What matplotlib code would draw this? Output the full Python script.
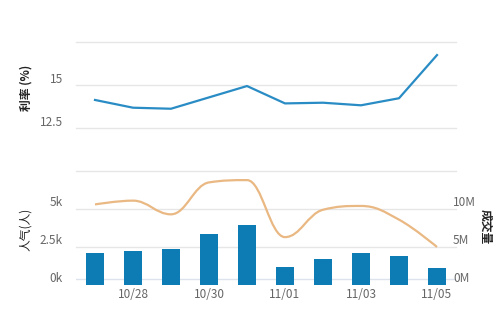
import matplotlib.pyplot as plt
from matplotlib.path import Path
from matplotlib.patches import PathPatch

plt.rcParams['font.family'] = ['Noto Sans CJK SC', 'DejaVu Sans']

dates = ['10/27', '10/28', '10/29', '10/30', '10/31', '11/01', '11/02', '11/03', '11/04', '11/05']
rate = [14.13, 13.68, 13.62, 14.28, 14.94, 13.93, 13.97, 13.82, 14.23, 16.74]
popularity = [2080, 2260, 2370, 3330, 3950, 1160, 1730, 2080, 1910, 1100]
volume = [10.6e6, 11.1e6, 9.3e6, 13.5e6, 13.8e6, 6.3e6, 9.9e6, 10.4e6, 8.6e6, 5.0e6]
tick_dates = ['10/28', '10/30', '11/01', '11/03', '11/05']

grid_c = '#e6e6e6'
text_c = '#666666'


def spline_path(xs, ys, smoothing=1.5):
    # highcharts style spline control points
    n = len(xs)
    lc = [None] * n
    rc = [None] * n
    d = smoothing + 1
    for i in range(1, n - 1):
        x, y = xs[i], ys[i]
        px, py = xs[i - 1], ys[i - 1]
        nx, ny = xs[i + 1], ys[i + 1]
        lx = (smoothing * x + px) / d
        ly = (smoothing * y + py) / d
        rx = (smoothing * x + nx) / d
        ry = (smoothing * y + ny) / d
        corr = (ry - ly) * (rx - x) / (rx - lx) + y - ry
        ly += corr
        ry += corr
        if ly > py and ly > y:
            ly = max(py, y)
            ry = 2 * y - ly
        elif ly < py and ly < y:
            ly = min(py, y)
            ry = 2 * y - ly
        if ry > ny and ry > y:
            ry = max(ny, y)
            ly = 2 * y - ry
        elif ry < ny and ry < y:
            ry = min(ny, y)
            ly = 2 * y - ry
        lc[i] = (lx, ly)
        rc[i] = (rx, ry)
    verts = [(xs[0], ys[0])]
    codes = [Path.MOVETO]
    for i in range(1, n):
        c1 = rc[i - 1] if rc[i - 1] else (xs[i - 1], ys[i - 1])
        c2 = lc[i] if lc[i] else (xs[i], ys[i])
        verts += [c1, c2, (xs[i], ys[i])]
        codes += [Path.CURVE4] * 3
    return Path(verts, codes)


fig = plt.figure(figsize=(5, 3.26), dpi=100)
x = list(range(len(dates)))

# top panel: rate
ax1 = fig.add_axes([0.152, 1 - 128 / 326, 0.76, 86 / 326])
ax1.plot(x, rate, color='#2a8cc4', lw=1.6, clip_on=False, zorder=3)
ax1.set_xlim(-0.5, 9.5)
ax1.set_ylim(12.5, 17.5)
for v in [12.5, 15, 17.5]:
    ax1.axhline(v, color=grid_c, lw=1, zorder=0, clip_on=False)
for v in [12.5, 15]:
    ax1.text(-0.85, v + 0.3, f'{v:g}', ha='right', va='center', fontsize=8.5, color=text_c)
for s in ax1.spines.values():
    s.set_visible(False)
ax1.set_xticks([])
ax1.set_yticks([])
fig.text(0.052, 1 - 88 / 326, '利率 (%)', rotation=90, ha='center', va='center', fontsize=8.5,
         color='#222222', fontweight='bold')

# bottom panel: popularity bars + volume line
ax2 = fig.add_axes([0.152, 1 - 285 / 326, 0.76, 114 / 326])
ax2.bar(x, popularity, width=0.49, color='#0e7cb4', zorder=2)
ax2.set_xlim(-0.5, 9.5)
ax2.set_ylim(0, 7500)
for v in [2500, 5000, 7500]:
    ax2.axhline(v, color=grid_c, lw=1, zorder=0, clip_on=False)
ax2.axhline(400, color='#dde3ec', lw=1, zorder=1)
for v, lab in zip([0, 2500, 5000], ['0k', '2.5k', '5k']):
    ax2.text(-0.85, v + 400, lab, ha='right', va='center', fontsize=8.5, color=text_c)
for s in ax2.spines.values():
    s.set_visible(False)
ax2.set_yticks([])
ax2.set_xticks([dates.index(d) for d in tick_dates])
ax2.set_xticklabels(tick_dates, fontsize=8.5, color=text_c)
ax2.tick_params(axis='x', length=0, pad=2)
fig.text(0.052, 1 - 229 / 326, '人气(人)', rotation=90, ha='center', va='center', fontsize=8.5,
         color='#222222')

ax3 = ax2.twinx()
ax3.set_position(ax2.get_position())
ax3.set_ylim(0, 15e6)
ax3.set_xlim(-0.5, 9.5)
ax3.add_patch(PathPatch(spline_path(x, volume), fill=False, edgecolor='#e9b883', lw=1.6, zorder=3))
for v, lab in zip([0, 5e6, 10e6], ['0M', '5M', '10M']):
    ax3.text(9.42, v + 0.8e6, lab, ha='left', va='center', fontsize=8.5, color=text_c)
for s in ax3.spines.values():
    s.set_visible(False)
ax3.set_yticks([])
fig.text(0.97, 1 - 227 / 326, '成交量', rotation=270, ha='center', va='center', fontsize=8.5,
         color='#222222', fontweight='bold')

fig.savefig('out.png', dpi=100)
